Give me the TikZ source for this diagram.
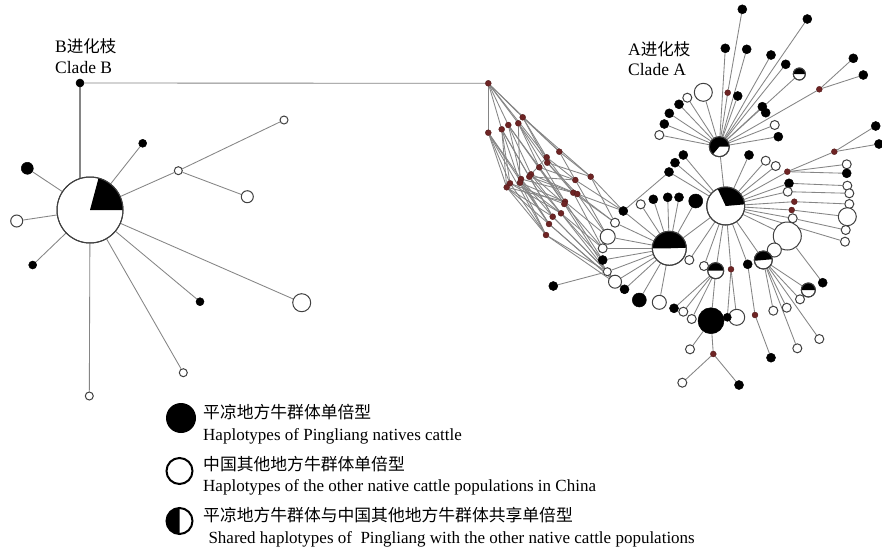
\documentclass[tikz,border=0pt]{standalone}
\usepackage{fontspec}
\setmainfont{Liberation Serif}
\newfontfamily\cjk{Noto Sans CJK SC}
\pgfdeclarelayer{back}
\pgfdeclarelayer{bg}
\pgfsetlayers{back,bg,main}
\definecolor{reddot}{HTML}{6E2424}
\definecolor{edgegray}{HTML}{858585}
\tikzset{
 bn/.style={circle, fill=black, draw=black, line width=0.5pt, inner sep=0pt, minimum size=9pt},
 wn/.style={circle, fill=white, draw=black!75, line width=1pt, inner sep=0pt, minimum size=9pt},
 rd/.style={circle, fill=reddot, draw=reddot!70!black, line width=0.3pt, inner sep=0pt, minimum size=6pt},
 ed/.style={draw=edgegray, line width=0.85pt},
 lbl/.style={anchor=base west, inner sep=0pt},
}
\newcommand\shnode[5]{%
 \node[wn, minimum size={2*#3pt}] (#1) at (#2) {};
 \fill (#1.center) -- ++(#4:#3pt) arc[start angle=#4, end angle=#5, radius=#3pt] -- cycle;
 \draw[black!75, line width=1pt] (#1.center) circle[radius=#3pt];
}
\begin{document}
\begin{tikzpicture}[x=1pt,y=-1pt]
\begin{pgfonlayer}{back}
\fill[white] (0,0) rectangle (882,552);
\end{pgfonlayer}
\useasboundingbox (0,0) rectangle (882,552);
% ---------- Clade B ----------
\node[bn, minimum size=8pt] (bj) at (80,83) {};
\shnode{B}{90,210}{33}{0}{75}
\node[bn, minimum size=8pt] (b1) at (142.7,143.3) {};
\node[bn, minimum size=12pt] (b2) at (27.3,168.3) {};
\node[wn, minimum size=12pt] (b3) at (16.7,221) {};
\node[bn, minimum size=8pt] (b4) at (32.7,265) {};
\node[wn, minimum size=8pt] (b5) at (178.3,170.7) {};
\node[wn, minimum size=8pt] (b6) at (284,120) {};
\node[wn, minimum size=12pt] (b7) at (247.3,196.7) {};
\node[bn, minimum size=8pt] (b8) at (200,301.7) {};
\node[wn, minimum size=18pt] (b9) at (301.7,302.7) {};
\node[wn, minimum size=8pt] (b10) at (183.3,372.7) {};
\node[wn, minimum size=8pt] (b11) at (89.3,396) {};
% ---------- network red dots ----------
\node[rd] (r1) at (488.3,83.3) {};
\node[rd] (r2) at (488.3,132.7) {};
\node[rd] (r3) at (501.7,129.3) {};
\node[rd] (r4) at (508.3,125) {};
\node[rd] (r5) at (518.3,123.3) {};
\node[rd] (r6) at (522.7,117.3) {};
\node[rd] (r7) at (559.3,151.7) {};
\node[rd] (r8) at (546.7,157.3) {};
\node[rd] (r9) at (547.3,162.7) {};
\node[rd] (r10) at (539.3,167.3) {};
\node[rd] (r11) at (531,174.3) {};
\node[rd] (r12) at (529.3,176.7) {};
\node[rd] (r13) at (521,179) {};
\node[rd] (r14) at (520,182.7) {};
\node[rd] (r15) at (510,183.3) {};
\node[rd] (r16) at (506.7,187.3) {};
\node[rd] (r17) at (590.7,176.7) {};
\node[rd] (r18) at (575.3,180) {};
\node[rd] (r19) at (573.3,192.7) {};
\node[rd] (r20) at (577.3,194) {};
\node[rd] (r21) at (565,201.7) {};
\node[rd] (r22) at (564.3,204) {};
\node[rd] (r23) at (561,213.3) {};
\node[rd] (r24) at (552.7,216.7) {};
\node[rd] (r25) at (549,224) {};
\node[rd] (r26) at (546,235) {};
% ---------- network exits ----------
\node[bn] (a1) at (623.3,211) {};
\node[wn] (a2) at (615,222.7) {};
\node[wn, minimum size=15pt] (a3) at (607.7,236.7) {};
\node[wn] (a4) at (602.7,248.3) {};
\node[bn] (a5) at (602.7,260) {};
\node[wn, minimum size=8pt] (a6) at (607.3,271.7) {};
\node[wn, minimum size=13pt] (a7) at (615,281.7) {};
\node[bn] (a8) at (624.5,289.3) {};
\node[bn] (a9) at (553.3,286) {};
% ---------- hub H1 ----------
\shnode{H1}{719.3,146.7}{10}{0}{230}
\node[bn] (t1) at (742.3,9.3) {};
\node[bn] (t2) at (807.3,19) {};
\node[bn] (t3) at (725.3,48.3) {};
\node[bn] (t4) at (746.7,49.3) {};
\node[bn] (t5) at (771,55) {};
\node[bn] (t6) at (785.7,64.3) {};
\shnode{t7}{799.3,74}{6}{0}{180}
\node[bn] (t8) at (853.3,58.3) {};
\node[bn] (t9) at (863.3,75) {};
\node[rd] (tr1) at (819.3,89.3) {};
\node[rd] (tr2) at (727.7,92.7) {};
\node[bn] (t10) at (737.7,96) {};
\node[wn, minimum size=18pt] (t11) at (703.3,92.3) {};
\node[wn] (t12) at (687.3,97.7) {};
\node[bn] (t13) at (679,104.3) {};
\node[bn] (t14) at (669.3,113.3) {};
\node[bn] (t15) at (664.3,124) {};
\node[wn] (t16) at (659.3,135) {};
\node[bn] (t17) at (762.3,106.7) {};
\node[bn] (t18) at (765.7,112.7) {};
\node[wn] (t19) at (774.7,125) {};
\node[bn] (t20) at (778.3,136.7) {};
% ---------- hub H2 ----------
\shnode{H2}{725.7,206}{19}{5}{115}
\node[bn] (u1) at (749,155) {};
\node[wn] (u2) at (765.7,160.7) {};
\node[wn] (u3) at (775.7,166) {};
\node[rd] (ur1) at (787.3,171.7) {};
\node[rd] (ur2) at (834.3,151.7) {};
\node[bn] (u4) at (875.7,126) {};
\node[bn] (u5) at (879,144) {};
\node[wn] (u6) at (846.7,164.3) {};
\node[bn] (u7) at (846.7,173.3) {};
\node[bn] (u8) at (789,183.3) {};
\node[wn] (u9) at (787.7,191.7) {};
\node[rd] (ur3) at (794.3,201.7) {};
\node[rd] (ur4) at (791.7,210) {};
\node[wn] (u10) at (792.7,218.3) {};
\node[wn] (u11) at (847.3,185.7) {};
\node[wn] (u12) at (849.3,193.3) {};
\node[wn] (u13) at (849.3,204) {};
\node[wn, minimum size=18pt] (u14) at (847.3,216.7) {};
\node[wn] (u15) at (845.7,230) {};
\node[wn] (u16) at (845,241.7) {};
\node[wn, minimum size=28pt] (u17) at (787.3,236) {};
\node[wn, minimum size=14pt] (u18) at (774.3,250) {};
\shnode{u19}{763.3,260}{9}{5}{185}
\node[bn] (u20) at (747.7,264.3) {};
\node[rd] (ur5) at (731,269.3) {};
\shnode{u21}{715.7,270.7}{8}{0}{180}
\node[wn] (u22) at (704,266) {};
\node[bn] (u23) at (822.7,282.7) {};
\shnode{u24}{808.3,290}{7}{0}{180}
\node[bn] (u25) at (669,172) {};
\node[bn] (u26) at (675,162.7) {};
\node[bn] (u27) at (683.3,155) {};
% ---------- hub H3 ----------
\shnode{H3}{669.3,248.3}{17}{2}{180}
\node[bn] (w1) at (653.3,199.3) {};
\node[bn] (w2) at (667.7,197.3) {};
\node[bn] (w3) at (679,197.3) {};
\node[bn, minimum size=14pt] (w4) at (695.7,201) {};
\node[wn] (w5) at (640.7,204.3) {};
\node[wn] (w6) at (689.3,260) {};
\node[bn, minimum size=14pt] (w7) at (639.3,300) {};
\node[wn, minimum size=14pt] (w8) at (659.3,302.3) {};
% ---------- hub H4 and lower part ----------
\node[bn, minimum size=26pt] (H4) at (711,320.7) {};
\node[bn] (x1) at (674,308.3) {};
\node[wn] (x2) at (683.3,311.7) {};
\node[wn] (x3) at (691.7,319) {};
\node[wn, minimum size=16pt] (x4) at (736.7,317.3) {};
\node[bn, minimum size=8pt] (x5) at (727.3,317.3) {};
\node[wn] (x6) at (690,349.3) {};
\node[rd] (xr1) at (713.3,354) {};
\node[wn] (x7) at (682.3,382.7) {};
\node[bn] (x8) at (739,385) {};
\node[rd] (xr2) at (755,315) {};
\node[bn] (x9) at (771,357.7) {};
\node[wn] (v1) at (773.3,310.7) {};
\node[wn] (v2) at (786.7,307.7) {};
\node[wn] (v3) at (797.3,348.3) {};
\node[wn] (v4) at (819.3,339) {};
\node[wn] (v5) at (800,299.3) {};
% ---------- edges ----------
\begin{pgfonlayer}{bg}
\draw[draw=edgegray, line width=2.2pt] (bj.center) -- (bj.center |- B.center);
\draw[ed] (bj) -- (r1);
\foreach \a/\b in {B/b1,B/b2,B/b3,B/b4,B/b5,B/b8,B/b9,B/b10,B/b11,b5/b6,b5/b7}
  \draw[ed] (\a) -- (\b);
\foreach \a/\b in {r1/r2,r1/r3,r1/r4,r1/r5,r1/r6,r1/r7,r1/r8,
  r2/r15,r2/r16,r2/r13,r2/r25,r3/r15,r3/r14,r3/r12,r3/r24,
  r4/r13,r4/r11,r4/r10,r4/r22,r5/r9,r5/r10,r5/r14,r5/r21,
  r6/r7,r6/r8,r6/r9,r6/r17,r7/r17,r7/r18,r8/r18,r8/r19,r8/r11,
  r9/r19,r9/r20,r10/r21,r10/r22,r10/r18,r11/r22,r11/r23,r11/r20,
  r12/r23,r12/r24,r12/r18,r13/r24,r13/r25,r13/r19,r14/r25,r14/r26,r14/r21,
  r15/r26,r15/r23,r15/r22,r16/r26,r16/r24,r16/r25,r16/r21,
  r2/r26,r3/r16,r9/r17,r12/r20,r14/r23,
  r17/a1,r17/a2,r18/a1,r18/a3,r19/a2,r19/a4,r20/a1,r20/a3,
  r21/a3,r21/a5,r22/a4,r22/a6,r23/a5,r23/a7,r24/a6,r24/a8,
  r25/a7,r25/a8,r26/a8,r26/a6,r20/a2,r23/a4}
  \draw[ed] (\a) -- (\b);
\foreach \a/\b in {a1/H3,a2/H3,a3/H3,a4/H3,a5/H3,a6/H3,a7/H3,a8/H3,a6/a9,a1/u25}
  \draw[ed] (\a) -- (\b);
\foreach \a/\b in {H1/tr2,tr2/t1,H1/t2,H1/t3,H1/t4,H1/t5,H1/t6,H1/t7,H1/tr1,tr1/t8,tr1/t9,
  H1/t10,H1/t11,H1/t12,H1/t13,H1/t14,H1/t15,H1/t16,H1/t17,t17/t18,H1/t19,H1/t20,H1/H2}
  \draw[ed] (\a) -- (\b);
\foreach \a/\b in {H2/u1,H2/u2,H2/u3,H2/ur1,ur1/u6,ur1/u7,ur1/ur2,ur2/u4,ur2/u5,
  H2/u8,u8/u11,H2/u9,u9/u12,H2/ur3,ur3/u13,H2/ur4,ur4/u14,H2/u10,u10/u15,H2/u16,
  H2/u17,u17/u18,H2/u19,H2/u20,H2/ur5,H2/u21,H2/u22,H2/u25,H2/u26,H2/u27,H2/w6,
  u17/u23,H2/H3}
  \draw[ed] (\a) -- (\b);
\foreach \a/\b in {H3/w1,H3/w2,H3/w3,H3/w4,H3/w5,H3/w7,H3/w8,
  u21/H4,u21/x1,u21/x2,u21/x3,ur5/x4,ur5/x5,H4/x6,H4/xr1,xr1/x7,xr1/x8,
  u20/xr2,xr2/x9,u19/v1,u19/v2,u19/v3,u19/v4,u19/v5,u19/u24}
  \draw[ed] (\a) -- (\b);
\end{pgfonlayer}
% ---------- clade labels ----------
\node[lbl, font=\fontsize{17.5}{17.5}\selectfont] (lb1) at (55,52) {B{\cjk\fontsize{16.5}{16.5}\selectfont 进化枝}};
\node[lbl, font=\fontsize{17.5}{17.5}\selectfont] (lb2) at (55,73) {Clade B};
\node[lbl, font=\fontsize{17.5}{17.5}\selectfont] (la1) at (628,55) {A{\cjk\fontsize{16.5}{16.5}\selectfont 进化枝}};
\node[lbl, font=\fontsize{17.5}{17.5}\selectfont] (la2) at (628,75) {Clade A};
% ---------- legend ----------
\node[circle, fill=black, inner sep=0pt, minimum size=30pt] (lg1) at (181,418) {};
\node[circle, fill=white, draw=black, line width=2pt, inner sep=0pt, minimum size=26pt] (lg2) at (179.5,471) {};
\node[circle, fill=white, inner sep=0pt, minimum size=26pt] (lg3) at (179.5,521) {};
\fill (lg3.center) -- ++(90:13pt) arc[start angle=90, end angle=270, radius=13pt] -- cycle;
\draw[line width=2pt] (lg3.center) circle[radius=13pt];
\node[lbl, font=\cjk\fontsize{16.8}{16.8}\selectfont] (lt1) at (203,418) {平凉地方牛群体单倍型};
\node[lbl, font=\fontsize{17}{17}\selectfont] (le1) at (203,440) {Haplotypes of Pingliang natives cattle};
\node[lbl, font=\cjk\fontsize{16.8}{16.8}\selectfont] (lt2) at (203,470) {中国其他地方牛群体单倍型};
\node[lbl, font=\fontsize{17}{17}\selectfont] (le2) at (203,491.7) {Haplotypes of the other native cattle populations in China};
\node[lbl, font=\cjk\fontsize{16.8}{16.8}\selectfont] (lt3) at (203,521) {平凉地方牛群体与中国其他地方牛群体共享单倍型};
\node[lbl, font=\fontsize{17}{17}\selectfont] (le3) at (208.3,543.3) {Shared haplotypes of \ Pingliang with the other native cattle populations};
\end{tikzpicture}
\end{document}
